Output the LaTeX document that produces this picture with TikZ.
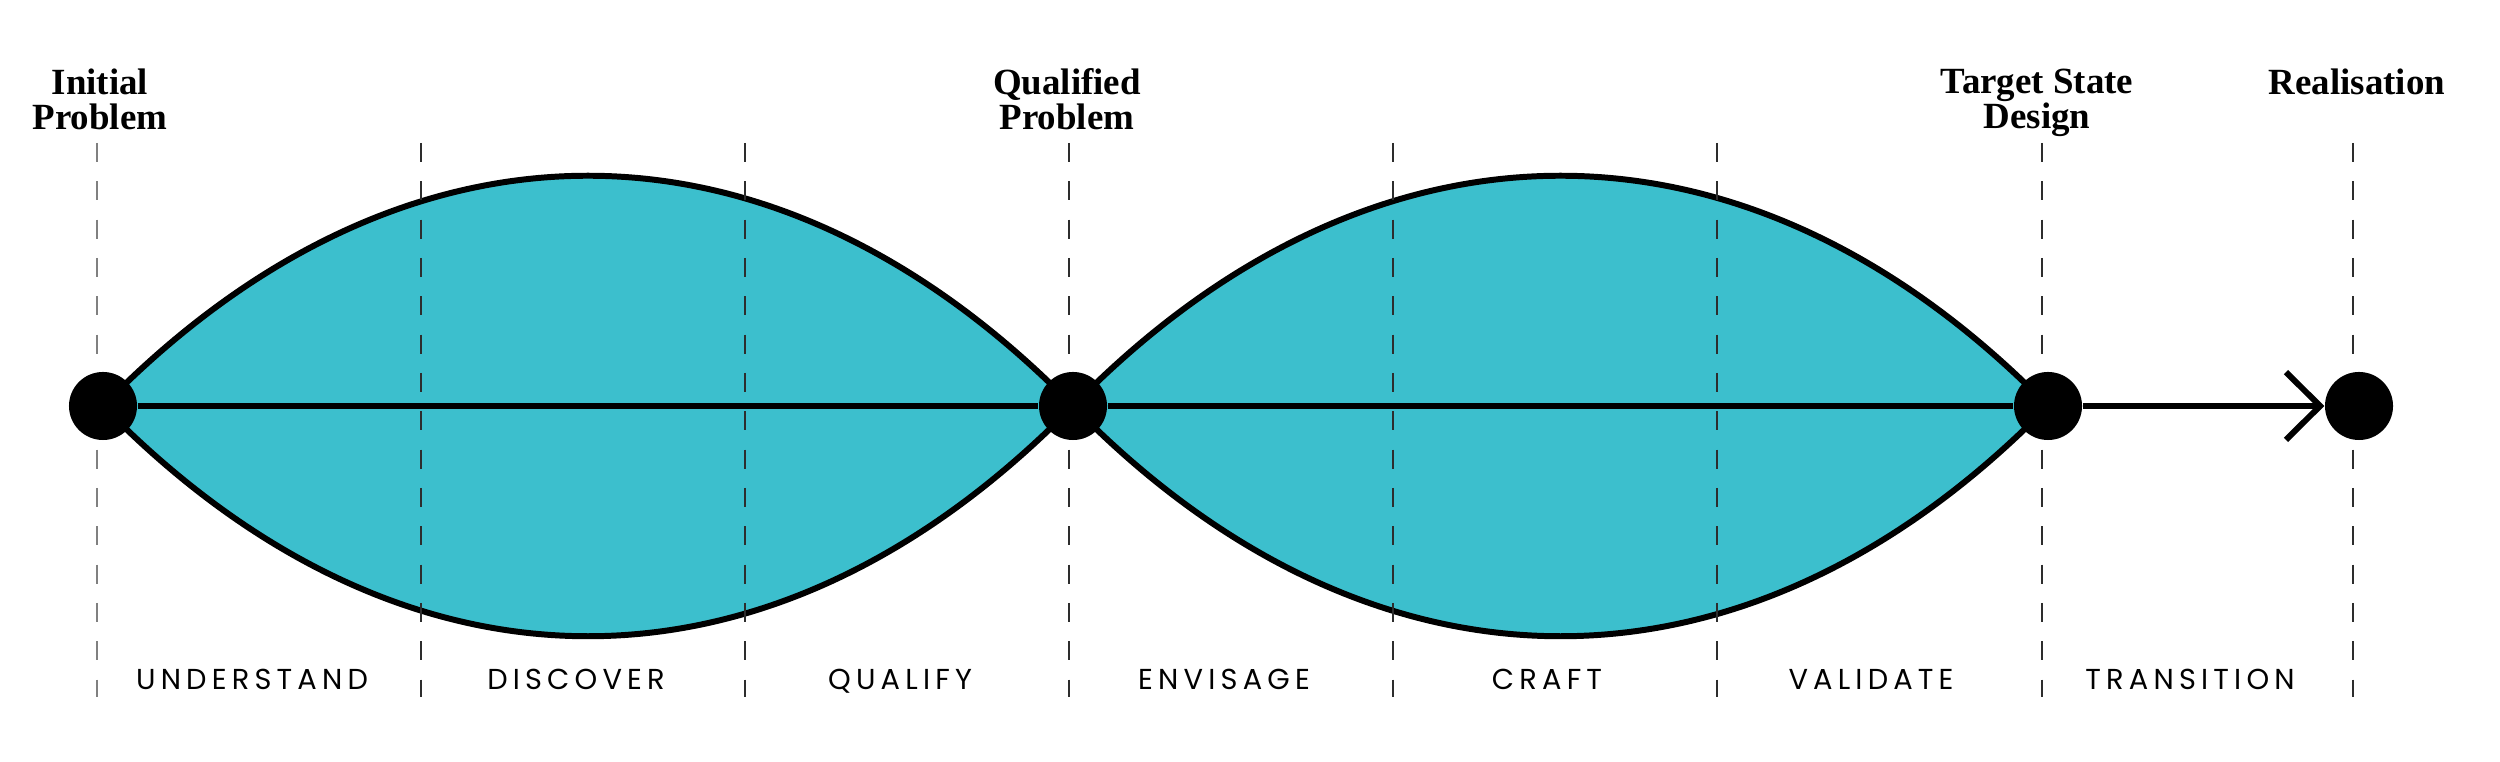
\documentclass[tikz,border=0pt]{standalone}
\usepackage{fontspec}
\setmainfont{Liberation Serif}
\newfontfamily\phasefont{Poppins}[LetterSpace=18]
\usetikzlibrary{arrows.meta,backgrounds}
\definecolor{lensteal}{RGB}{60,191,205}
\definecolor{dividergray}{RGB}{45,45,45}
\begin{document}
\begin{tikzpicture}[x=0.01cm,y=-0.01cm,
    dot/.style={circle,fill=black,inner sep=0pt,minimum size=0.68cm},
    title/.style={anchor=north,align=center,inner sep=0pt,font=\fontsize{10.5}{10}\selectfont\bfseries},
    phase/.style={anchor=base,inner sep=0pt,font=\phasefont\fontsize{8.2}{10}\selectfont},
    divider/.style={line width=0.6pt,dash pattern=on 5.4pt off 5.5pt},
    lens/.style={fill=lensteal,draw=black,line width=1.7pt},
    spine/.style={draw=black,line width=1.7pt}]
    \useasboundingbox (0,0) rectangle (2500,762);

    \node[dot] (initial) at (103,406) {};
    \node[dot] (qualified) at (1073,406) {};
    \node[dot] (target) at (2048,406) {};
    \node[dot] (real) at (2359,406) {};

    \begin{scope}[on background layer]
        \path[lens] (initial.center) .. controls +(300,-307) and +(-300,-307) .. (qualified.center)
            .. controls +(-300,307) and +(300,307) .. (initial.center) -- cycle;
        \path[lens] (qualified.center) .. controls +(300,-307) and +(-300,-307) .. (target.center)
            .. controls +(-300,307) and +(300,307) .. (qualified.center) -- cycle;
        \foreach \x/\c in {97/gray,421/dividergray,745/dividergray,1069/dividergray,1393/dividergray,1717/dividergray,2042/dividergray,2353/dividergray}
            \draw[divider,draw=\c] (\x,143) -- (\x,697);
    \end{scope}

    \draw[spine] (initial) -- (qualified) -- (target);
    \draw[spine,-{Straight Barb[length=9.7pt,width=19.3pt]}] (target) -- (real);

    \node[title] (tinitial) at (100,68) {Initial\\Problem};
    \node[title] (tqualified) at (1067,68) {Qualified\\Problem};
    \node[title] (ttarget) at (2037,68) {Target State\\Design};
    \node[title] (treal) at (2357,68) {Realisation};

    \node[phase] (understand) at (252,690) {UNDERSTAND};
    \node[phase] (discover) at (576,690) {DISCOVER};
    \node[phase] (qualify) at (900,690) {QUALIFY};
    \node[phase] (envisage) at (1224,690) {ENVISAGE};
    \node[phase] (craft) at (1547,690) {CRAFT};
    \node[phase] (validate) at (1871,690) {VALIDATE};
    \node[phase] (transition) at (2190,690) {TRANSITION};
\end{tikzpicture}
\end{document}
